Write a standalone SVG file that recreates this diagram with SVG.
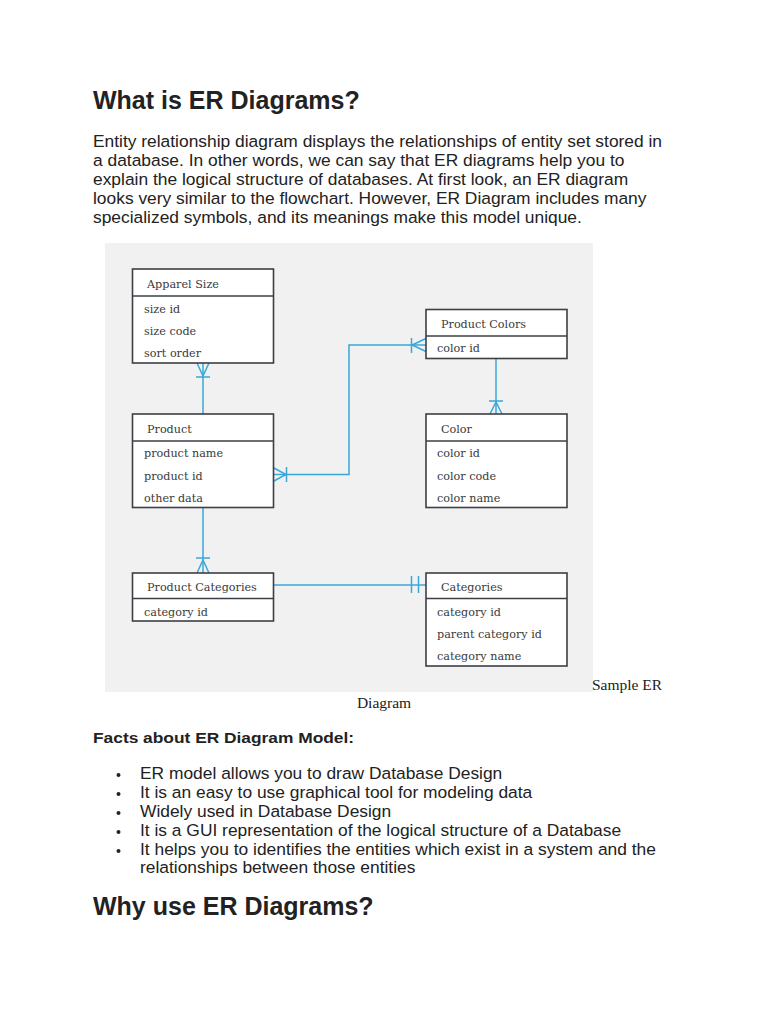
<svg xmlns="http://www.w3.org/2000/svg" width="768" height="1024" viewBox="0 0 768 1024">
<style>
.h1{font-family:"Liberation Sans",Arial,sans-serif;font-weight:bold;font-size:25px;fill:#222}
.p{font-family:"Liberation Sans",Arial,sans-serif;font-size:16.3px;fill:#222}
.h3{font-family:"Liberation Sans",Arial,sans-serif;font-weight:bold;font-size:15.5px;fill:#222}
.cap{font-family:"Liberation Serif","Times New Roman",serif;font-size:15.5px;fill:#222}
.box{fill:#fff;stroke:#3c3f44;stroke-width:1.6}
.div{stroke:#3c3f44;stroke-width:1.6}
.t{font-family:"DejaVu Serif","Liberation Serif",serif;font-size:11.2px;fill:#3a3a3a}
.c{fill:none;stroke:#3ba7d8;stroke-width:1.5}
</style>
<rect width="768" height="1024" fill="#fff"/>
<text class="h1" x="93" y="108.5">What is ER Diagrams?</text>
<g class="p" transform="translate(93,0) scale(1.067,1)">
<text x="0" y="147">Entity relationship diagram displays the relationships of entity set stored in</text>
<text x="0" y="166">a database. In other words, we can say that ER diagrams help you to</text>
<text x="0" y="185">explain the logical structure of databases. At first look, an ER diagram</text>
<text x="0" y="204">looks very similar to the flowchart. However, ER Diagram includes many</text>
<text x="0" y="223">specialized symbols, and its meanings make this model unique.</text>
</g>
<rect x="105" y="243" width="488" height="449" fill="#f1f1f1"/>
<g id="connectors">
<path class="c" d="M203 363V414"/>
<path class="c" d="M197 363L203 376L209 363M196 377H210"/>
<path class="c" d="M496 358V414"/>
<path class="c" d="M490 414L496 402L502 414M489 401H503"/>
<path class="c" d="M273 474.5H349V345H426"/>
<path class="c" d="M273 467.5L286 474.5L273 481.5M286.5 467V482"/>
<path class="c" d="M426 338.5L412 345L426 351.5M411.5 338V353"/>
<path class="c" d="M203 507V573"/>
<path class="c" d="M197 573L203 560L209 573M196 558H210"/>
<path class="c" d="M273 585H426M411.5 576V593M418.5 576V593"/>
</g>
<g id="apparel-size">
<rect class="box" x="132.5" y="269" width="141" height="94"/>
<line class="div" x1="132.5" y1="296" x2="273.5" y2="296"/>
<text class="t" x="147" y="288">Apparel Size</text>
<text class="t" x="144" y="313">size id</text>
<text class="t" x="144" y="335">size code</text>
<text class="t" x="144" y="357">sort order</text>
</g>
<g id="product-colors">
<rect class="box" x="426" y="309.5" width="141" height="49"/>
<line class="div" x1="426" y1="336" x2="567" y2="336"/>
<text class="t" x="441" y="327.5">Product Colors</text>
<text class="t" x="437" y="352">color id</text>
</g>
<g id="product">
<rect class="box" x="132.5" y="414" width="141" height="93.5"/>
<line class="div" x1="132.5" y1="441" x2="273.5" y2="441"/>
<text class="t" x="147" y="432.5">Product</text>
<text class="t" x="144" y="457">product name</text>
<text class="t" x="144" y="479.5">product id</text>
<text class="t" x="144" y="502">other data</text>
</g>
<g id="color">
<rect class="box" x="426" y="414" width="141" height="93.5"/>
<line class="div" x1="426" y1="441" x2="567" y2="441"/>
<text class="t" x="441" y="432.5">Color</text>
<text class="t" x="437" y="457">color id</text>
<text class="t" x="437" y="479.5">color code</text>
<text class="t" x="437" y="502">color name</text>
</g>
<g id="product-categories">
<rect class="box" x="132.5" y="573" width="141" height="48"/>
<line class="div" x1="132.5" y1="598.5" x2="273.5" y2="598.5"/>
<text class="t" x="147" y="591">Product Categories</text>
<text class="t" x="144" y="615.5">category id</text>
</g>
<g id="categories">
<rect class="box" x="426" y="573" width="141" height="93"/>
<line class="div" x1="426" y1="598.5" x2="567" y2="598.5"/>
<text class="t" x="441" y="591">Categories</text>
<text class="t" x="437" y="615.5">category id</text>
<text class="t" x="437" y="637.5">parent category id</text>
<text class="t" x="437" y="659.5">category name</text>
</g>
<text class="cap" x="592" y="690">Sample ER</text>
<text class="cap" x="384" y="708" text-anchor="middle">Diagram</text>
<text class="h3" transform="translate(93,742.5) scale(1.12,1)">Facts about ER Diagram Model:</text>
<g fill="#222">
<circle cx="118.5" cy="775" r="2"/>
<circle cx="118.5" cy="794" r="2"/>
<circle cx="118.5" cy="813" r="2"/>
<circle cx="118.5" cy="832" r="2"/>
<circle cx="118.5" cy="851" r="2"/>
</g>
<g class="p" transform="translate(140,0) scale(1.067,1)">
<text x="0" y="779">ER model allows you to draw Database Design</text>
<text x="0" y="798">It is an easy to use graphical tool for modeling data</text>
<text x="0" y="817">Widely used in Database Design</text>
<text x="0" y="836">It is a GUI representation of the logical structure of a Database</text>
<text x="0" y="855">It helps you to identifies the entities which exist in a system and the</text>
<text x="0" y="873.5">relationships between those entities</text>
</g>
<text class="h1" x="93" y="915">Why use ER Diagrams?</text>
</svg>
